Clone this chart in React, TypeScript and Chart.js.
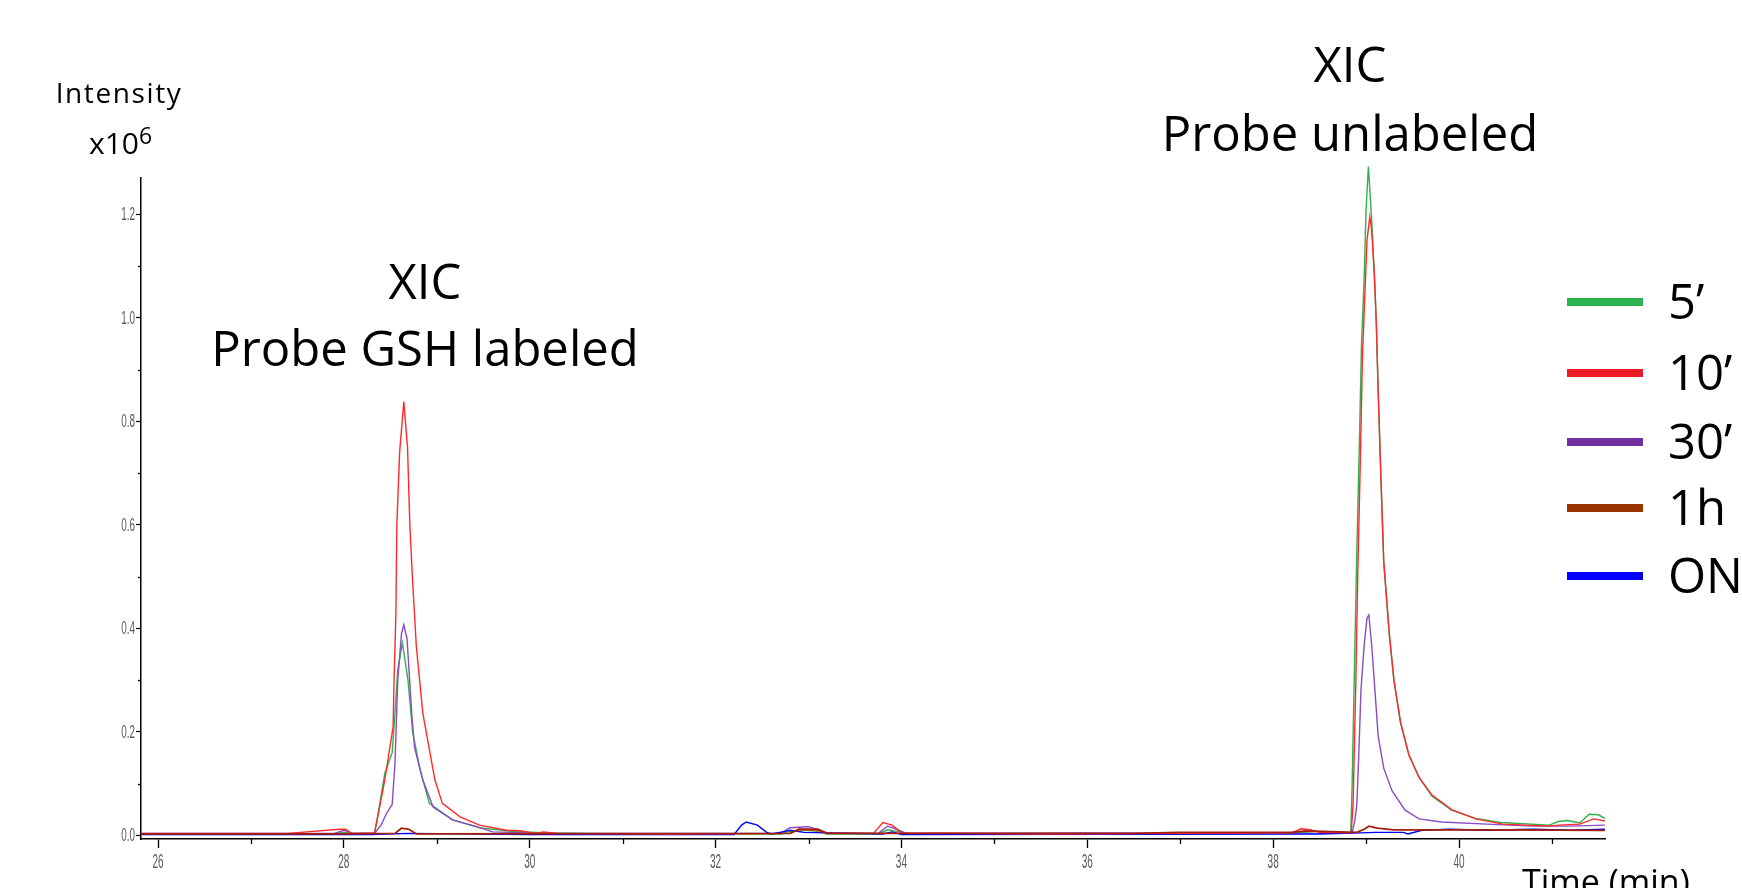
import React, { useEffect, useRef } from 'react';
import { Chart, registerables } from 'chart.js';

Chart.register(...registerables);

// ---- data: [time (min), intensity (x10^6)] ----
const series5min: [number, number][] = [
  [25.82, 0.003], [26.5, 0.003], [27.2, 0.003], [27.9, 0.004], [28.0, 0.006], [28.1, 0.004],
  [28.33, 0.004], [28.37, 0.043], [28.44, 0.12], [28.52, 0.16], [28.55, 0.236], [28.58, 0.32],
  [28.63, 0.372], [28.69, 0.3], [28.74, 0.2], [28.82, 0.127], [28.92, 0.062], [29.05, 0.045],
  [29.17, 0.03], [29.46, 0.015], [29.8, 0.008], [30.2, 0.005], [31.0, 0.003], [32.7, 0.003],
  [32.8, 0.008], [32.95, 0.01], [33.1, 0.008], [33.2, 0.003], [33.75, 0.003], [33.85, 0.011],
  [33.95, 0.008], [34.1, 0.003], [35.0, 0.003], [36.5, 0.003], [37.8, 0.004], [38.3, 0.006],
  [38.45, 0.004], [38.6, 0.004], [38.835, 0.004], [38.85, 0.1], [38.88, 0.37], [38.9, 0.545],
  [38.93, 0.776], [38.95, 0.945], [38.98, 1.08], [39.0, 1.21], [39.025, 1.292], [39.06, 1.19],
  [39.09, 1.08], [39.11, 0.99], [39.13, 0.857], [39.16, 0.689], [39.19, 0.528], [39.25, 0.387],
  [39.3, 0.299], [39.37, 0.218], [39.46, 0.156], [39.57, 0.112], [39.71, 0.076], [39.92, 0.049],
  [40.18, 0.033], [40.45, 0.025], [40.97, 0.02], [41.07, 0.027], [41.17, 0.029], [41.3, 0.024],
  [41.4, 0.041], [41.5, 0.04], [41.57, 0.033],
];

const series10min: [number, number][] = [
  [25.82, 0.004], [26.6, 0.004], [27.4, 0.004], [27.95, 0.012], [28.02, 0.012], [28.08, 0.004],
  [28.33, 0.005], [28.38, 0.05], [28.44, 0.107], [28.53, 0.21], [28.54, 0.3], [28.56, 0.43],
  [28.57, 0.6], [28.6, 0.74], [28.645, 0.838], [28.685, 0.75], [28.71, 0.6], [28.74, 0.49],
  [28.78, 0.365], [28.85, 0.236], [28.98, 0.107], [29.06, 0.062], [29.25, 0.036], [29.46, 0.02],
  [29.75, 0.01], [29.9, 0.009], [30.05, 0.004], [30.15, 0.007], [30.3, 0.004], [31.5, 0.003],
  [32.8, 0.004], [32.9, 0.012], [33.1, 0.01], [33.2, 0.004], [33.7, 0.004], [33.8, 0.025],
  [33.9, 0.02], [34.0, 0.005], [35.5, 0.003], [37.0, 0.004], [38.2, 0.005], [38.3, 0.013],
  [38.4, 0.011], [38.5, 0.006], [38.84, 0.005], [38.86, 0.06], [38.89, 0.3], [38.91, 0.5],
  [38.94, 0.74], [38.96, 0.92], [38.99, 1.06], [39.01, 1.15], [39.04, 1.195], [39.06, 1.17],
  [39.09, 1.08], [39.11, 0.99], [39.13, 0.86], [39.16, 0.69], [39.19, 0.53], [39.25, 0.39],
  [39.3, 0.3], [39.37, 0.22], [39.46, 0.156], [39.57, 0.112], [39.71, 0.078], [39.92, 0.05],
  [40.18, 0.032], [40.47, 0.022], [40.97, 0.018], [41.07, 0.02], [41.3, 0.022], [41.45, 0.032],
  [41.57, 0.028],
];

const series30min: [number, number][] = [
  [25.82, 0.004], [27.9, 0.004], [28.0, 0.01], [28.1, 0.004], [28.33, 0.004], [28.4, 0.02],
  [28.46, 0.043], [28.52, 0.06], [28.55, 0.14], [28.58, 0.3], [28.62, 0.39], [28.645, 0.407],
  [28.68, 0.38], [28.73, 0.236], [28.76, 0.17], [28.85, 0.107], [28.96, 0.055], [29.17, 0.03],
  [29.43, 0.017], [29.6, 0.007], [30.2, 0.004], [32.7, 0.004], [32.8, 0.015], [33.0, 0.017],
  [33.2, 0.005], [33.75, 0.004], [33.85, 0.018], [33.95, 0.012], [34.05, 0.004], [36.0, 0.005],
  [38.5, 0.004], [38.85, 0.005], [38.88, 0.03], [38.9, 0.059], [38.92, 0.148], [38.945, 0.281],
  [38.98, 0.369], [39.01, 0.42], [39.03, 0.426], [39.06, 0.369], [39.095, 0.281], [39.13, 0.192],
  [39.19, 0.13], [39.28, 0.086], [39.42, 0.049], [39.57, 0.032], [39.81, 0.026], [40.3, 0.022],
  [40.8, 0.018], [41.2, 0.018], [41.57, 0.02],
];

const series1h: [number, number][] = [
  [25.82, 0.003], [28.0, 0.003], [28.55, 0.004], [28.62, 0.014], [28.7, 0.012], [28.78, 0.003],
  [32.8, 0.004], [32.9, 0.012], [33.1, 0.012], [33.2, 0.004], [36.5, 0.004], [37.0, 0.006],
  [38.2, 0.006], [38.35, 0.009], [38.9, 0.006], [38.98, 0.012], [39.03, 0.018], [39.12, 0.014],
  [39.3, 0.011], [40.5, 0.011], [41.57, 0.01],
];

const seriesON: [number, number][] = [
  [25.82, 0.002], [28.3, 0.002], [28.7, 0.004], [30.0, 0.002], [32.2, 0.002], [32.28, 0.02],
  [32.33, 0.026], [32.45, 0.02], [32.55, 0.006], [32.6, 0.003], [32.75, 0.008], [32.8, 0.01],
  [32.95, 0.006], [33.8, 0.003], [33.9, 0.007], [34.0, 0.002], [38.5, 0.003], [38.95, 0.005],
  [39.1, 0.006], [39.4, 0.006], [39.45, 0.003], [39.6, 0.01], [39.9, 0.012], [40.3, 0.01],
  [40.8, 0.012], [41.2, 0.01], [41.57, 0.012],
];

const legendLabels = ['5’', '10’', '30’', '1h', 'ON'];
const xMajorTicks = [26, 28, 30, 32, 34, 36, 38, 40];
const xMinorTicks = [27, 29, 31, 33, 35, 37, 39, 41];
const yMajorTicks = [0, 0.2, 0.4, 0.6, 0.8, 1.0, 1.2];
const yMinorTicks = [0.1, 0.3, 0.5, 0.7, 0.9, 1.1];

const lineColors = ['#33b24a', '#ff2a2a', '#8a4cc4', '#a3200c', '#0000ff'];
const lineWidths = [1.4, 1.4, 1.4, 1.8, 1.4];
const legendColors = ['#2db34f', '#ed1c24', '#7030a0', '#993300', '#0000ff'];
const drawOrder = [4, 1, 3, 0, 2];

const TICK_FONT = "'Liberation Sans', Arial, sans-serif";
const TEXT_FONT = "'Open Sans', 'Noto Sans', sans-serif";

// minor tick marks and condensed tick labels, placed through the chart's own scales
const axisDecorPlugin = {
  id: 'axisDecor',
  afterDraw(chart: any) {
    const { ctx } = chart;
    const x = chart.scales.x;
    const y = chart.scales.y;
    ctx.save();
    ctx.strokeStyle = '#000';
    ctx.lineWidth = 1.3;
    xMinorTicks.forEach((v) => {
      const px = Math.round(x.getPixelForValue(v)) + 0.5;
      ctx.beginPath();
      ctx.moveTo(px, x.top);
      ctx.lineTo(px, x.top + 5);
      ctx.stroke();
    });
    yMinorTicks.forEach((v) => {
      const py = Math.round(y.getPixelForValue(v)) + 0.5;
      ctx.beginPath();
      ctx.moveTo(y.right, py);
      ctx.lineTo(y.right - 3, py);
      ctx.stroke();
    });
    ctx.fillStyle = '#5a5a5a';
    // x labels
    ctx.font = `20px ${TICK_FONT}`;
    ctx.textAlign = 'center';
    ctx.textBaseline = 'alphabetic';
    xMajorTicks.forEach((v) => {
      const px = x.getPixelForValue(v);
      ctx.save();
      ctx.translate(px, x.top + 29);
      ctx.scale(0.5, 1);
      ctx.fillText(String(v), 0, 0);
      ctx.restore();
    });
    // y labels
    ctx.font = `18px ${TICK_FONT}`;
    ctx.textAlign = 'right';
    ctx.textBaseline = 'middle';
    yMajorTicks.forEach((v) => {
      const py = y.getPixelForValue(v);
      ctx.save();
      ctx.translate(y.right - 6, py + 1);
      ctx.scale(0.55, 1);
      ctx.fillText(v.toFixed(1), 0, 0);
      ctx.restore();
    });
    ctx.restore();
  },
};

function Text(props: { x: number; baseline: number; size: number; text: React.ReactNode; align?: 'left' | 'center'; spacing?: number }) {
  const { x, baseline, size, text, align = 'center', spacing = 0 } = props;
  return (
    <div
      style={{
        position: 'absolute',
        left: x,
        top: baseline - 0.888 * size,
        fontFamily: TEXT_FONT,
        fontSize: size,
        lineHeight: `${size}px`,
        whiteSpace: 'nowrap',
        color: '#000',
        letterSpacing: spacing,
        transform: align === 'center' ? 'translateX(-50%)' : undefined,
      }}
    >
      {text}
    </div>
  );
}

export default function App() {
  const canvasRef = useRef<HTMLCanvasElement | null>(null);

  useEffect(() => {
    document.body.style.margin = '0';
    const canvas = canvasRef.current;
    if (!canvas) return;
    const all = [series5min, series10min, series30min, series1h, seriesON];
    const chart = new Chart(canvas, {
      type: 'line',
      data: {
        datasets: all.map((s, i) => ({
          label: legendLabels[i],
          data: s.map(([x, y]) => ({ x, y })),
          borderColor: lineColors[i],
          backgroundColor: lineColors[i],
          borderWidth: lineWidths[i],
          pointRadius: 0,
          tension: 0,
          fill: false,
          clip: false as any,
          order: drawOrder[i],
        })),
      },
      options: {
        animation: false,
        responsive: false,
        devicePixelRatio: 1,
        layout: { padding: { left: 0, right: 137, top: 178, bottom: 0 } },
        plugins: { legend: { display: false }, tooltip: { enabled: false } },
        scales: {
          x: {
            type: 'linear',
            min: 25.817,
            max: 41.571,
            afterBuildTicks: (scale: any) => {
              scale.ticks = xMajorTicks.map((v) => ({ value: v }));
            },
            afterFit: (scale: any) => {
              scale.height = 49;
            },
            border: { display: true, color: '#000', width: 1.5 },
            grid: { display: true, drawOnChartArea: false, tickLength: 9, color: '#000', tickWidth: 1.3 },
            ticks: { display: false, autoSkip: false },
          },
          y: {
            type: 'linear',
            min: -0.0068,
            max: 1.27,
            afterBuildTicks: (scale: any) => {
              scale.ticks = yMajorTicks.map((v) => ({ value: v }));
            },
            afterFit: (scale: any) => {
              scale.width = 141;
            },
            border: { display: true, color: '#000', width: 1.5 },
            grid: { display: true, drawOnChartArea: false, tickLength: 5, color: '#000', tickWidth: 1.2 },
            ticks: { display: false, autoSkip: false },
          },
        },
      },
      plugins: [axisDecorPlugin],
    });
    return () => chart.destroy();
  }, []);

  const legendRows = [302, 373, 442, 508, 576];

  return (
    <div style={{ position: 'fixed', left: 0, top: 0, width: 1742, height: 888, overflow: 'hidden', background: '#fff' }}>
      <canvas ref={canvasRef} width={1742} height={888} style={{ position: 'absolute', left: 0, top: 0 }} />
      <Text x={119} baseline={103} size={28} text="Intensity" spacing={1.6} />
      <div
        style={{
          position: 'absolute',
          left: 89,
          top: 155 - 0.888 * 30,
          fontFamily: TEXT_FONT,
          fontSize: 30,
          lineHeight: '30px',
          whiteSpace: 'nowrap',
        }}
      >
        x10<sup style={{ fontSize: 23, verticalAlign: 'baseline', position: 'relative', top: -10 }}>6</sup>
      </div>
      <Text x={425} baseline={300} size={49} text="XIC" />
      <Text x={425} baseline={367} size={49} text="Probe GSH labeled" />
      <Text x={1350} baseline={83} size={49} text="XIC" />
      <Text x={1350} baseline={152} size={49} text="Probe unlabeled" />
      <Text x={1522} baseline={894} size={34} text="Time (min)" align="left" />
      {legendLabels.map((lab, i) => (
        <React.Fragment key={lab}>
          <div
            style={{
              position: 'absolute',
              left: 1567,
              top: legendRows[i] - 4,
              width: 76,
              height: 8,
              background: legendColors[i],
            }}
          />
          <Text x={1668} baseline={legendRows[i] + 17.5} size={49} text={lab} align="left" />
        </React.Fragment>
      ))}
    </div>
  );
}
